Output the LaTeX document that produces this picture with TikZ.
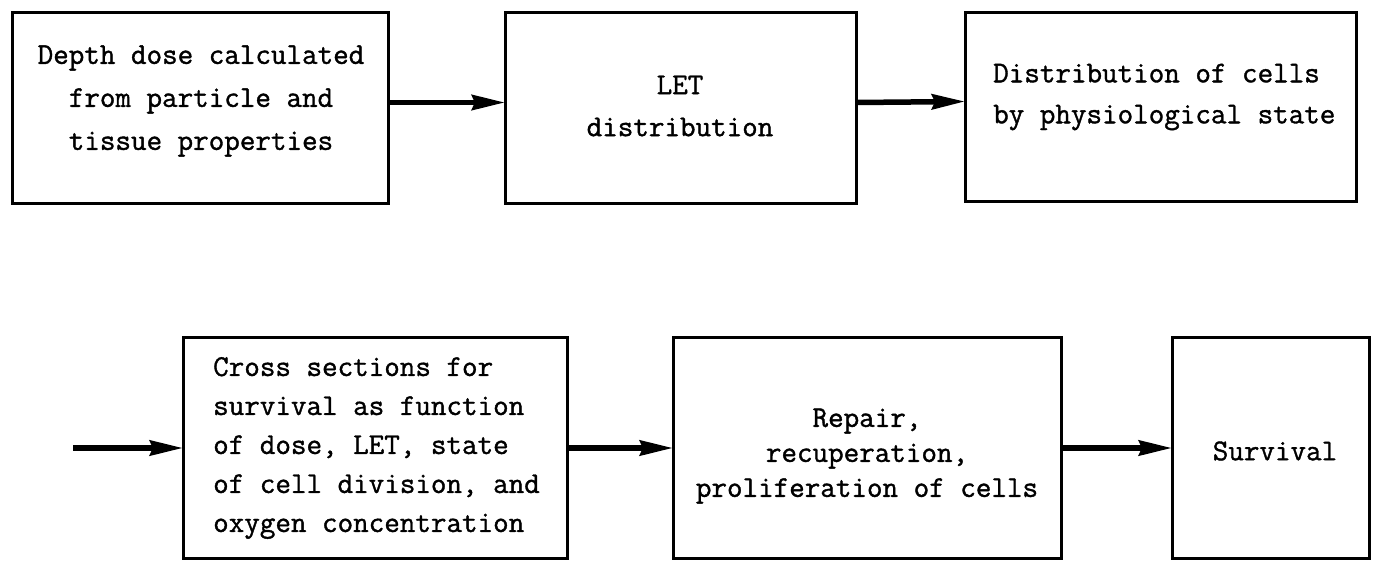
\documentclass[tikz,border=0pt]{standalone}
\usepackage{fontspec}
\newfontfamily\twfont{Latin Modern Mono}[FakeBold=1.2]
\usetikzlibrary{arrows.meta}
\begin{document}
\begin{tikzpicture}[x=1pt,y=-1pt,
  box/.style={draw=black, line width=3pt, inner sep=0pt, outer sep=0pt},
  txt/.style={inner sep=0pt, align=#1},
  txt/.default=center,
  arr/.style={line width=5.5pt, -{Stealth[length=33pt,width=15pt,inset=3pt]}}]
\useasboundingbox (0,0) rectangle (1373,568);
% boxes
\node[box, minimum width=376pt, minimum height=191pt] (b1) at (200,107.5) {};
\node[box, minimum width=351pt, minimum height=191pt] (b2) at (680.5,107.5) {};
\node[box, minimum width=391pt, minimum height=189pt] (b3) at (1160.5,106.5) {};
\node[box, minimum width=384pt, minimum height=221pt] (b4) at (375,447.5) {};
\node[box, minimum width=388pt, minimum height=221pt] (b5) at (867,447.5) {};
\node[box, minimum width=197pt, minimum height=221pt] (b6) at (1270.5,447.5) {};
% texts
\node[txt, font=\twfont\fontsize{30.2pt}{43pt}\selectfont] (t1) at (201,101)
  {Depth dose calculated\\from particle and\\tissue properties};
\node[txt, font=\twfont\fontsize{30.2pt}{42pt}\selectfont] (t2) at (680,106)
  {LET\\distribution};
\node[txt=left, anchor=west, font=\twfont\fontsize{30.2pt}{41pt}\selectfont] (t3) at (993,97)
  {Distribution of cells\\by physiological state};
\node[txt=left, anchor=west, font=\twfont\fontsize{30.2pt}{39pt}\selectfont] (t4) at (213,448)
  {Cross sections for\\survival as function\\of dose, LET, state\\of cell division, and\\oxygen concentration};
\node[txt, font=\twfont\fontsize{30.2pt}{35pt}\selectfont] (t5) at (867,456)
  {Repair,\\recuperation,\\proliferation of cells};
\node[txt, font=\twfont\fontsize{30.2pt}{35pt}\selectfont] (t6) at (1275,451)
  {Survival};
% arrows
\coordinate (in) at (73,448);
\draw[arr] ([yshift=5pt]b1.east) -- ([yshift=5pt]b2.west);
\draw[arr] ([yshift=5pt]b2.east) -- ([yshift=5pt]b3.west);
\draw[arr] (in) -- (b4.west |- in);
\draw[arr] (b4.east |- in) -- (b5.west |- in);
\draw[arr] (b5.east |- in) -- (b6.west |- in);
\end{tikzpicture}
\end{document}
